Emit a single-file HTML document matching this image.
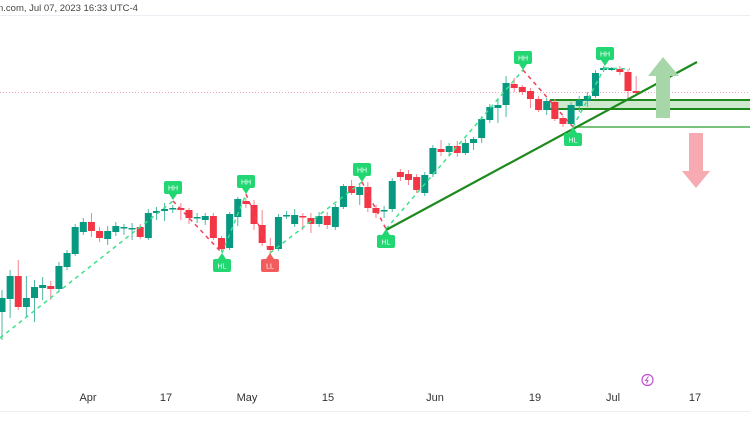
<!DOCTYPE html>
<html><head><meta charset="utf-8"><style>
html,body{margin:0;padding:0;background:#fff;width:750px;height:430px;overflow:hidden}
svg{display:block;font-family:"Liberation Sans",sans-serif}
</style></head><body>
<svg id="c" width="750" height="430" viewBox="0 0 750 430">
<text x="-2" y="11" font-size="9.5" fill="#444">n.com, Jul 07, 2023 16:33 UTC-4</text>
<line x1="0" y1="15.5" x2="750" y2="15.5" stroke="#eceef3" stroke-width="1"/>
<line x1="0" y1="92.5" x2="750" y2="92.5" stroke="#f4a6b0" stroke-width="1" stroke-dasharray="1,2"/>
<rect x="550" y="100" width="200" height="9" fill="#cfe9cf"/>
<line x1="550" y1="100" x2="750" y2="100" stroke="#1e8a1e" stroke-width="2"/>
<line x1="550" y1="109" x2="750" y2="109" stroke="#1e8a1e" stroke-width="2"/>
<line x1="575" y1="127" x2="750" y2="127" stroke="#4caf50" stroke-width="1.5"/>
<g id="cd"></g>
<polyline fill="none" stroke="#3ee08a" stroke-width="1.5" stroke-dasharray="4,4" points="0,338 173,201"/>
<polyline fill="none" stroke="#f2405a" stroke-width="1.5" stroke-dasharray="4,4" points="173,201 222,253"/>
<polyline fill="none" stroke="#3ee08a" stroke-width="1.5" stroke-dasharray="4,4" points="222,253 246,194"/>
<polyline fill="none" stroke="#f2405a" stroke-width="1.5" stroke-dasharray="4,4" points="246,194 270,253"/>
<polyline fill="none" stroke="#3ee08a" stroke-width="1.5" stroke-dasharray="4,4" points="270,253 362,182"/>
<polyline fill="none" stroke="#f2405a" stroke-width="1.5" stroke-dasharray="4,4" points="362,182 386,229"/>
<polyline fill="none" stroke="#3ee08a" stroke-width="1.5" stroke-dasharray="4,4" points="386,229 523,70"/>
<polyline fill="none" stroke="#f2405a" stroke-width="1.5" stroke-dasharray="4,4" points="523,70 573,127"/>
<polyline fill="none" stroke="#3ee08a" stroke-width="1.5" stroke-dasharray="4,4" points="573,127 605,67"/>
<polyline fill="none" stroke="#3ee08a" stroke-width="1.5" stroke-dasharray="4,4" points="605,68 630,69"/>
<line x1="386" y1="230" x2="697" y2="62" stroke="#1e8a1e" stroke-width="2.2"/>
<path d="M656,118 L656,76 L648,76 L663,57 L679,76 L670,76 L670,118 Z" fill="#a7d7a9"/>
<path d="M689,133 L703,133 L703,171 L710,171 L696,188 L682,171 L689,171 Z" fill="#f8aab2"/>
<g id="lb"></g>
<g font-size="11" fill="#333" text-anchor="middle">
<text x="88" y="401">Apr</text><text x="166" y="401">17</text><text x="247" y="401">May</text>
<text x="328" y="401">15</text><text x="435" y="401">Jun</text><text x="535" y="401">19</text>
<text x="613" y="401">Jul</text><text x="695" y="401">17</text>
</g>
<circle cx="647.5" cy="380" r="5.5" fill="none" stroke="#c04fd0" stroke-width="1.2"/>
<path d="M648.5,376.5 L645.5,380.5 L648,380.5 L646.5,383.5" fill="none" stroke="#c04fd0" stroke-width="1"/>
<line x1="0" y1="411.5" x2="750" y2="411.5" stroke="#eceef3"/>
</svg>
<script>
var G='#089981',R='#f23645';
var d=[
['g',298,312,290,340],['g',276,299,270,318],['r',276,307,260,310],['g',298,307,276,317],['g',287,298,280,322],
['g',285,288,277,300],['r',286,289,281,300],['g',266,289,262,292],['g',253,267,250,270],['g',227,254,224,256],
['g',222,232,218,235],['r',222,231,213,237],['r',231,238,227,242],['g',231,239,226,245],['g',226,232,222,236],
['g',227,228,224,235],['g',228,229,223,240],['r',227,237,224,239],['g',213,238,209,240],['g',211,213,207,220],
['g',209,211,203,221],['g',208,209,205,213],['r',208,210,203,220],['r',210,218,208,224],['g',217,218,213,223],
['g',216,220,213,225],['r',216,238,213,240],['r',238,249,236,252],['g',214,248,212,250],['g',199,217,197,226],
['r',201,204,198,208],['r',205,224,200,230],['r',225,243,210,246],['r',246,250,238,255],['g',217,249,214,251],
['g',215,216,211,219],['g',215,224,209,227],['r',216,217,213,230],['r',218,224,213,233],['g',216,224,212,227],
['r',216,225,212,229],['g',207,227,204,230],['g',186,207,184,209],['r',186,193,180,195],['g',187,195,183,205],
['r',187,208,182,212],['r',208,213,205,218],['g',210,211,206,218],['g',181,209,178,212],['r',172,177,169,181],
['r',174,180,170,185],['r',177,190,174,193],
['g',175,193,172,196],['g',148,174,145,177],['r',149,152,140,156],['g',146,152,143,156],['r',146,153,141,157],
['g',143,153,139,155],['g',139,143,137,150],['g',119,138,116,143],['g',107,120,104,123],['g',105,108,98,123],
['g',83,105,76,117],['r',84,88,78,92],['r',87,92,85,95],['r',91,99,88,108],['r',99,110,96,112],
['g',101,110,98,115],['r',102,119,99,121],['r',118,124,116,127],['g',105,124,102,126],['g',100,106,96,112],
['g',96,101,92,107],['g',73,96,70,98],['g',68,70,66,72],['g',68,70,67,71],['r',69,72,66,75],
['r',72,91,69,100],['r',91,93,76,96]];
var s='';
d.forEach(function(c,i){var x=2+i*8.13;var col=c[0]=='g'?G:R;var h=Math.max(1.5,c[2]-c[1]);
var wc=c[0]=='g'?'#4fb7a3':'#f5828f';
s+='<line x1="'+x+'" y1="'+c[3]+'" x2="'+x+'" y2="'+c[4]+'" stroke="'+wc+'" stroke-width="1"/>';
s+='<rect x="'+(x-3.5)+'" y="'+c[1]+'" width="7" height="'+h+'" fill="'+col+'"/>';});
document.getElementById('cd').innerHTML=s;
var L=[['HH',173,200,1,'#22d672'],['HL',222,253,0,'#22d672'],['HH',246,194,1,'#22d672'],['LL',270,253,0,'#f25c5c'],
['HH',362,182,1,'#22d672'],['HL',386,229,0,'#22d672'],['HH',523,70,1,'#22d672'],['HL',573,127,0,'#22d672'],['HH',605,66,1,'#22d672']];
var t='';
L.forEach(function(l){var x=l[1],y=l[2];var by=l[3]?y-19:y+6;
t+='<rect x="'+(x-9)+'" y="'+by+'" width="18" height="13" rx="2" fill="'+l[4]+'"/>';
if(l[3])t+='<path d="M'+(x-4)+','+(by+13)+' L'+x+','+y+' L'+(x+4)+','+(by+13)+'Z" fill="'+l[4]+'"/>';
else t+='<path d="M'+(x-4)+','+by+' L'+x+','+y+' L'+(x+4)+','+by+'Z" fill="'+l[4]+'"/>';
t+='<text x="'+x+'" y="'+(by+9.5)+'" font-size="7" fill="#fff" text-anchor="middle">'+l[0]+'</text>';});
document.getElementById('lb').innerHTML=t;
</script>
</body></html>
